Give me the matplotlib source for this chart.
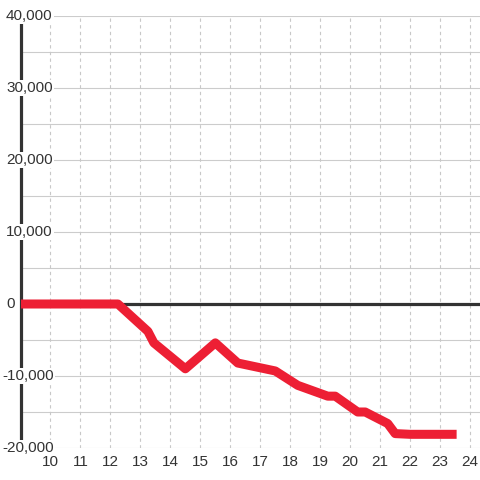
import matplotlib
matplotlib.use('Agg')
import matplotlib.pyplot as plt

# data
hours = [9, 12.25, 13.25, 13.45, 14.5, 15.5, 16.25, 17.5, 18.25, 19.25, 19.5,
         20.25, 20.5, 21.25, 21.5, 22, 23.55]
values = [0, 0, -3800, -5400, -9000, -5400, -8200, -9300, -11300, -12800, -12800,
          -15000, -15000, -16600, -18000, -18100, -18100]
xticks = list(range(10, 25))
yticks = [40000, 30000, 20000, 10000, 0, -10000, -20000]
ytick_labels = ['40,000', '30,000', '20,000', '10,000', '0', '-10,000', '-20,000']

plt.rcParams['font.family'] = ['Liberation Sans', 'DejaVu Sans']

fig = plt.figure(figsize=(4.8, 4.8), dpi=100)
ax = fig.add_axes([20.5 / 480, 32 / 480, 459.5 / 480, 432 / 480])

ax.set_xlim(9, 24.33)
ax.set_ylim(-20000, 40000)

# grid
for v in range(-20000, 40001, 5000):
    ax.axhline(v, color='#cccccc', lw=0.8, zorder=1)
for v in xticks:
    ax.axvline(v, color='#c8c8c8', lw=0.8, ls=(0, (3, 3)), zorder=1)

ax.axhline(0, color='#333333', lw=2.3, zorder=2)
ax.plot(hours, values, color='#ed1f34', lw=6.5, solid_joinstyle='round',
        solid_capstyle='butt', zorder=4)

for s in ['top', 'right', 'bottom']:
    ax.spines[s].set_visible(False)
ax.spines['left'].set_color('#333333')
ax.spines['left'].set_linewidth(2.3)

ax.set_xticks(xticks)
ax.set_xticklabels([str(t) for t in xticks])
ax.tick_params(axis='x', length=0, pad=5, labelsize=11, labelcolor='#333333')
ax.set_yticks([])

# y labels drawn over the axis line with a white box
ytrans = ax.get_yaxis_transform()
for v, lab in zip(yticks, ytick_labels):
    px = 2 if lab.startswith('-') else 6
    ax.text((px - 20.5) / 459.5, v, lab, transform=ytrans, ha='left', va='center',
            fontsize=11, color='#333333', clip_on=False, zorder=5,
            bbox=dict(facecolor='white', edgecolor='none', pad=1))

fig.savefig('out.png', dpi=100, facecolor='white')
